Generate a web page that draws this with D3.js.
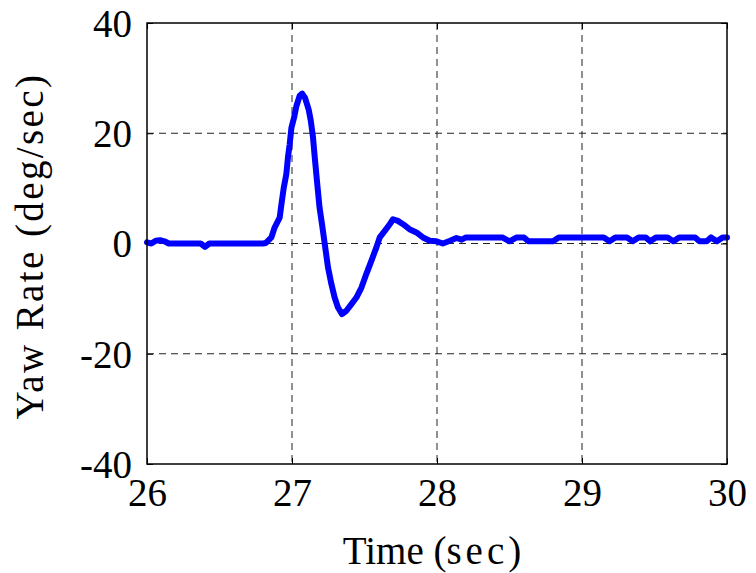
<!DOCTYPE html>
<html><head><meta charset="utf-8">
<script src="https://cdn.jsdelivr.net/npm/d3@7"></script>
<style>html,body{margin:0;padding:0;background:#fff;}</style>
</head><body><svg id="chart" width="756" height="573"></svg>
<script>
const time = [26.00,26.03,26.06,26.09,26.12,26.15,26.20,26.30,26.37,26.40,26.43,26.50,26.60,26.70,26.80,26.82,26.858,26.88,26.915,26.927,26.943,26.961,26.972,26.984,26.996,27.014,27.03,27.053,27.07,27.09,27.115,27.13,27.145,27.157,27.172,27.19,27.207,27.226,27.248,27.272,27.294,27.317,27.345,27.375,27.41,27.444,27.479,27.513,27.548,27.582,27.605,27.64,27.674,27.697,27.73,27.766,27.81,27.858,27.903,27.95,27.996,28.04,28.09,28.134,28.17,28.2,28.3,28.45,28.5,28.55,28.60,28.63,28.80,28.84,29.0,29.15,29.19,29.23,29.31,29.35,29.39,29.44,29.47,29.51,29.59,29.63,29.67,29.78,29.81,29.86,29.89,29.93,29.97,30.0];
const yawRate = [0.2,0.0,0.5,0.6,0.4,0.0,0.0,0.0,0.0,-0.6,0.0,0.0,0.0,0.0,0.0,0.1,1.1,2.9,4.7,7.1,10.1,12.6,15.6,18.0,21.0,22.8,24.9,26.8,27.2,26.4,24.3,22.2,19.2,15.6,11.4,6.5,3.5,-0.1,-4.3,-7.4,-9.8,-11.6,-12.8,-12.2,-11.0,-9.8,-8.0,-5.5,-3.1,-0.7,1.1,2.3,3.5,4.4,4.1,3.5,2.6,2.0,1.1,0.5,0.4,0.0,0.5,1.0,0.7,1.1,1.1,1.1,0.4,1.1,1.1,0.4,0.4,1.1,1.1,1.1,0.4,1.1,1.1,0.4,1.1,1.1,0.4,1.1,1.1,0.4,1.1,1.1,0.4,0.4,1.1,0.4,1.1,1.1];
const xTicks = [26,27,28,29,30];
const yTicks = [-40,-20,0,20,40];
const xLabelParts = ["Time (", "sec)"];
const yLabel = "Yaw Rate (deg/sec)";

const W = 756, H = 573;
const m = {left:147, right:29, top:23, bottom:109};
const iw = W - m.left - m.right, ih = H - m.top - m.bottom;
const FONT = '"Liberation Serif", serif';
const svg = d3.select("#chart");
const g = svg.append("g").attr("transform", `translate(${m.left},${m.top})`);
const x = d3.scaleLinear().domain([26,30]).range([0, iw]);
const y = d3.scaleLinear().domain([-40,40]).range([ih, 0]);

// grid
g.append("g").selectAll("line").data(xTicks.slice(1,-1)).join("line")
  .attr("x1", d=>x(d)).attr("x2", d=>x(d)).attr("y1",0).attr("y2",ih)
  .attr("stroke","#222").attr("stroke-width",1).attr("stroke-dasharray","7,5");
g.append("g").selectAll("line").data(yTicks.slice(1,-1)).join("line")
  .attr("y1", d=>y(d)).attr("y2", d=>y(d)).attr("x1",0).attr("x2",iw)
  .attr("stroke","#222").attr("stroke-width",1).attr("stroke-dasharray","7,5");

// axes
const fmt = d => String(d);
const xAxis = g.append("g").attr("transform",`translate(0,${ih})`)
  .call(d3.axisBottom(x).tickValues(xTicks).tickSize(-6).tickPadding(42).tickFormat(fmt));
const yAxis = g.append("g")
  .call(d3.axisLeft(y).tickValues(yTicks).tickSize(-6).tickPadding(15).tickFormat(fmt));
g.append("g").attr("transform",`translate(${iw},0)`).call(d3.axisRight(y).tickValues(yTicks).tickSize(-6).tickFormat(""));
g.append("g").call(d3.axisTop(x).tickValues(xTicks).tickSize(-6).tickFormat(""));
g.selectAll(".domain").remove();
g.selectAll(".tick line").attr("stroke","#000").attr("stroke-width",1);
xAxis.attr("font-family", FONT).attr("font-size", 39);
yAxis.attr("font-family", FONT).attr("font-size", 39);
[xAxis,yAxis].forEach(a=>a.selectAll("text").attr("font-family",FONT).attr("font-size",39).attr("fill","#000"));
xAxis.selectAll("text").attr("dy","0");
yAxis.selectAll("text").attr("dy","0.34em");

// line
g.append("path").datum(time.map((t,i)=>[t,yawRate[i]]))
  .attr("fill","none").attr("stroke","#0000ff").attr("stroke-width",6)
  .attr("stroke-linejoin","round").attr("stroke-linecap","round")
  .attr("d", d3.line().x(d=>x(d[0])).y(d=>y(d[1])));

// frame
g.append("rect").attr("x",0).attr("y",0).attr("width",iw).attr("height",ih)
  .attr("fill","none").attr("stroke","#000").attr("stroke-width",1.5);

// labels
const xl = svg.append("text").attr("x", 434).attr("y", 564).attr("text-anchor","middle")
  .attr("font-family",FONT).attr("font-size",39);
xl.append("tspan").text(xLabelParts[0]);
xl.append("tspan").attr("letter-spacing",4).text(xLabelParts[1]);
svg.append("text").attr("transform","translate(43,246) rotate(-90)").attr("text-anchor","middle")
  .attr("font-family",FONT).attr("font-size",39).attr("letter-spacing",2.4).text(yLabel);
</script></body></html>
